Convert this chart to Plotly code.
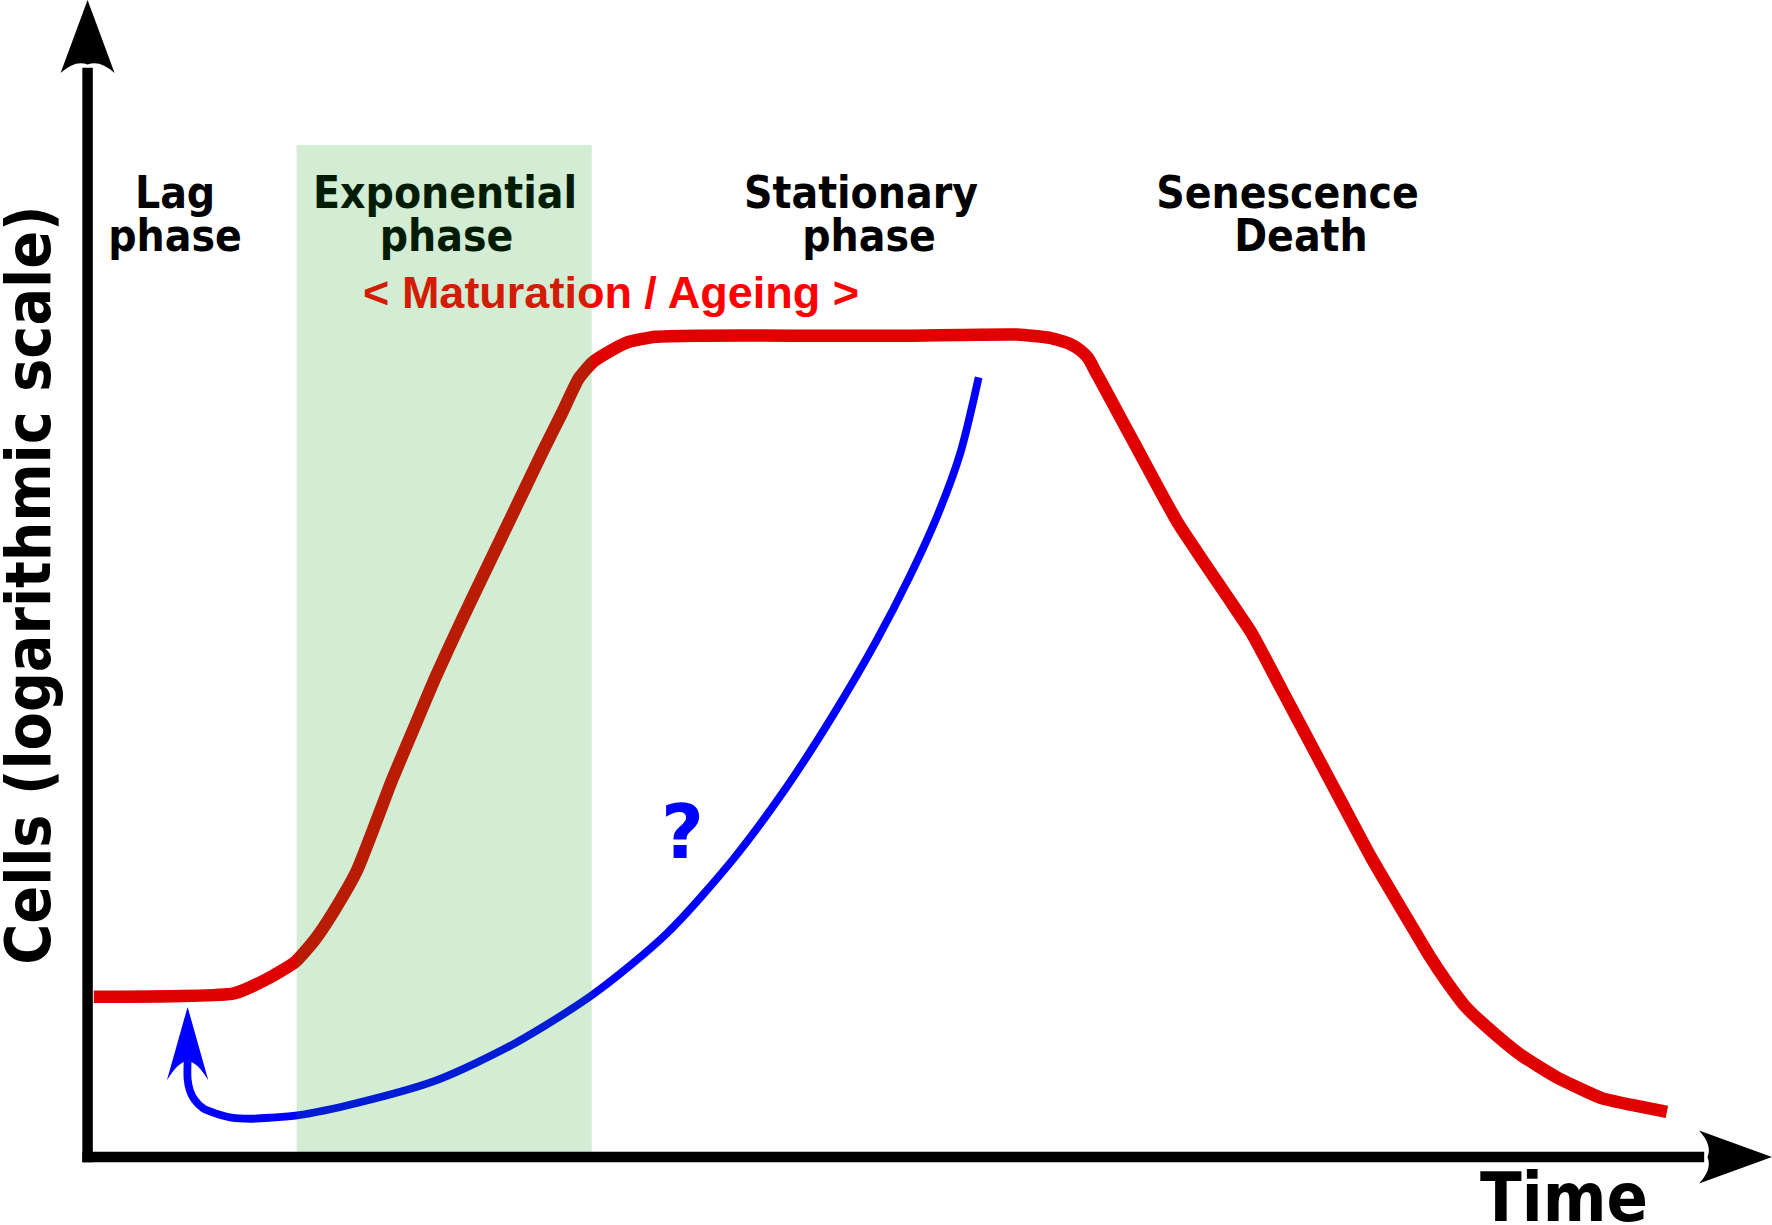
import plotly.graph_objs as go

# Growth curve: time vs cells (log)
red_t = [0.055, 1.295, 1.575, 1.84, 2.015, 2.175, 2.385, 2.695, 2.885, 3.075, 3.305, 3.545,
         3.785, 4.025, 4.195, 4.345, 4.465, 4.585, 4.775, 5.025, 5.425, 6.225, 7.225, 8.225,
         8.515, 8.685, 8.785, 8.855, 8.925, 8.975, 9.145, 9.315, 9.485, 9.655, 9.875, 10.095,
         10.305, 10.575, 10.835, 11.105, 11.365, 11.725, 11.875, 12.015, 12.195, 12.385, 12.675,
         12.995, 13.405, 13.675, 13.975]
red_c = [1.418, 1.448, 1.568, 1.728, 1.928, 2.168, 2.538, 3.338, 3.788, 4.238, 4.738, 5.238,
         5.738, 6.238, 6.578, 6.888, 7.028, 7.108, 7.208, 7.258, 7.268, 7.268, 7.268, 7.278,
         7.248, 7.198, 7.138, 7.068, 6.938, 6.848, 6.533, 6.218, 5.903, 5.598, 5.268, 4.943,
         4.628, 4.12, 3.631, 3.123, 2.638, 2.028, 1.778, 1.568, 1.328, 1.148, 0.908,
         0.708, 0.518, 0.458, 0.398]

# the "?" curve (drawn from its top end back to the arrow)
blue_t = [7.885, 7.725, 7.525, 7.275, 6.975, 6.595, 6.175, 5.715, 5.125, 4.485, 3.785, 3.085,
          2.385, 1.855, 1.625, 1.435, 1.275, 1.125, 1.025, 0.945, 0.905, 0.885, 0.885]
blue_c = [6.898, 6.238, 5.688, 5.138, 4.558, 3.908, 3.258, 2.638, 1.978, 1.448, 1.008, 0.678,
          0.478, 0.368, 0.348, 0.338, 0.348, 0.388, 0.428, 0.508, 0.588, 0.688, 0.848]
blue_tip = (0.885, 1.328)

phase_text = ["Lag", "phase", "Exponential", "phase", "Stationary", "phase", "Senescence", "Death"]
phase_t = [0.774, 0.774, 3.163, 3.176, 6.844, 6.915, 10.618, 10.737]
phase_c = [8.495, 8.11, 8.495, 8.11, 8.495, 8.11, 8.495, 8.11]

ageing_text = "< Maturation / Ageing >"
ageing_pos = (4.632, 7.61)
question_pos = (5.264, 2.81)
time_pos = (13.065, -0.42)

expo_start, expo_end, expo_top = 1.85, 4.461, 8.955

x_range = [-0.775, 14.905]
y_range = [-0.602, 10.238]
x_axis_end = 14.905
y_axis_end = 10.238

BOLD = "DejaVu Sans Condensed, DejaVu Sans, sans-serif"


def arrow_path(tx, ty, dx, dy, length, half_w, notch, bulge):
    # filled arrow head with a concave back, tip at (tx, ty) pointing along (dx, dy)
    nx, ny = -dy, dx
    bx, by = tx - dx * length, ty - dy * length
    c1 = (bx + nx * half_w, by + ny * half_w)
    c2 = (bx - nx * half_w, by - ny * half_w)
    nt = (bx + dx * notch, by + dy * notch)
    q1 = (bx + nx * half_w * 0.45 + dx * notch * bulge, by + ny * half_w * 0.45 + dy * notch * bulge)
    q2 = (bx - nx * half_w * 0.45 + dx * notch * bulge, by - ny * half_w * 0.45 + dy * notch * bulge)
    return (f"M {tx},{ty} L {c1[0]},{c1[1]} Q {q1[0]},{q1[1]} {nt[0]},{nt[1]} "
            f"Q {q2[0]},{q2[1]} {c2[0]},{c2[1]} Z")


fig = go.Figure()

fig.add_scatter(x=red_t, y=red_c, mode='lines',
                line=dict(color='#e00000', width=12.5, shape='spline', smoothing=0.5),
                hoverinfo='skip', showlegend=False)

fig.add_scatter(x=blue_t, y=blue_c, mode='lines',
                line=dict(color='#0000ff', width=7.8, shape='spline', smoothing=0.8),
                hoverinfo='skip', showlegend=False)

fig.add_scatter(x=phase_t, y=phase_c, text=phase_text, mode='text', textposition='middle center',
                textfont=dict(family=BOLD, size=44, color='black', weight='bold'),
                hoverinfo='skip', showlegend=False)

fig.add_scatter(x=[ageing_pos[0]], y=[ageing_pos[1]], text=[ageing_text], mode='text',
                textposition='middle center',
                textfont=dict(family='Liberation Sans, Arial, sans-serif', size=45, color='#ff0000',
                              weight='bold'),
                hoverinfo='skip', showlegend=False)

fig.add_scatter(x=[question_pos[0]], y=[question_pos[1]], text=['?'], mode='text',
                textposition='middle center',
                textfont=dict(family='DejaVu Sans', size=74, color='#0000ff', weight='bold'),
                hoverinfo='skip', showlegend=False)

fig.add_scatter(x=[time_pos[0]], y=[time_pos[1]], text=['Time'], mode='text',
                textposition='middle center',
                textfont=dict(family=BOLD, size=68, color='black', weight='bold'),
                hoverinfo='skip', showlegend=False, cliponaxis=False)

# exponential phase band, tinting what lies under it
fig.add_shape(type='rect', x0=expo_start, x1=expo_end, y0=0, y1=expo_top, xref='x', yref='y',
              fillcolor='rgba(5,155,17,0.18)', line_width=0, layer='above')

# axes with arrow heads
fig.add_shape(type='line', x0=0, x1=0, y0=-0.046, y1=y_axis_end - 0.6, xref='x', yref='y',
              line=dict(color='black', width=10.5), layer='above')
fig.add_shape(type='line', x0=-0.046, x1=x_axis_end - 0.6, y0=0, y1=0, xref='x', yref='y',
              line=dict(color='black', width=10.5), layer='above')
fig.add_shape(type='path', path=arrow_path(0, y_axis_end, 0, 1, 0.646, 0.239, 0.075, 1.6),
              fillcolor='black', line_width=0, xref='x', yref='y', layer='above')
fig.add_shape(type='path', path=arrow_path(x_axis_end, 0, 1, 0, 0.646, 0.235, 0.075, 1.6),
              fillcolor='black', line_width=0, xref='x', yref='y', layer='above')
fig.add_shape(type='path', path=arrow_path(blue_tip[0], blue_tip[1], 0, 1, 0.65, 0.183, 0.17, 1.0),
              fillcolor='#0000ff', line_width=0, xref='x', yref='y', layer='above')

fig.add_annotation(text='Cells (logarithmic scale)', x=-0.52, y=5.063, xref='x', yref='y',
                   textangle=-90, showarrow=False, xanchor='center', yanchor='middle',
                   font=dict(family=BOLD, size=62, color='black', weight='bold'))

fig.update_xaxes(visible=False, range=x_range, fixedrange=True)
fig.update_yaxes(visible=False, range=y_range, fixedrange=True)

fig.update_layout(width=1772, height=1225, margin=dict(l=0, r=0, t=0, b=0),
                  plot_bgcolor='white', paper_bgcolor='white')

fig.write_html("out.html", config={'displayModeBar': False},
               post_script="document.body.style.margin='0';")
